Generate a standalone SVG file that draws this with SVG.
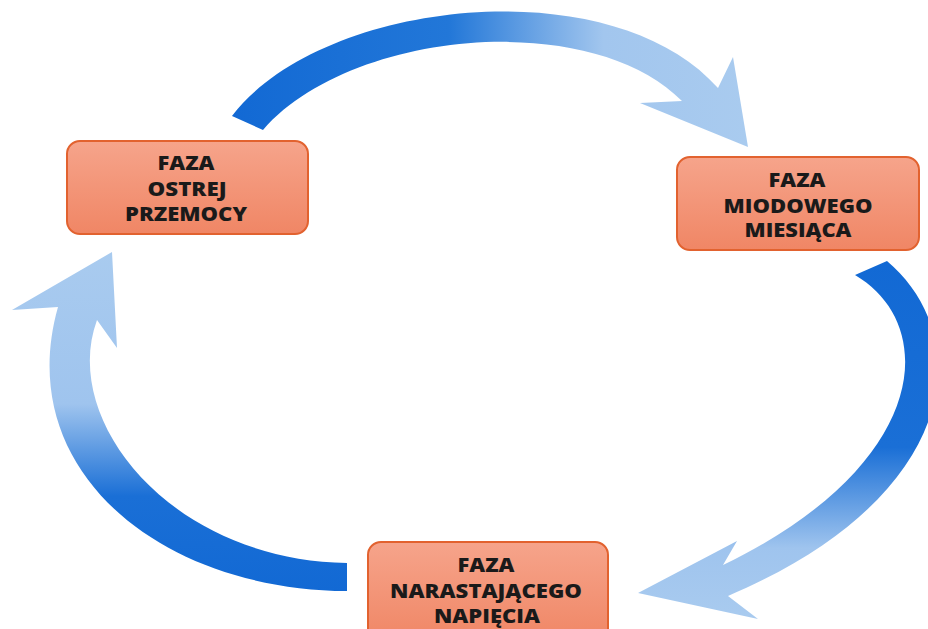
<svg xmlns="http://www.w3.org/2000/svg" width="928" height="629" viewBox="0 0 928 629">
<defs>
<linearGradient id="boxFill" x1="0" y1="0" x2="0" y2="1">
<stop offset="0" stop-color="#f6a48b"/>
<stop offset="1" stop-color="#f08665"/>
</linearGradient>
<linearGradient id="gTop" gradientUnits="userSpaceOnUse" x1="232" y1="0" x2="748" y2="0">
<stop offset="0" stop-color="#1269d4"/>
<stop offset="0.42" stop-color="#2277d8"/>
<stop offset="0.72" stop-color="#a2c6ee"/>
<stop offset="1" stop-color="#a9cbef"/>
</linearGradient>
<linearGradient id="gRight" gradientUnits="userSpaceOnUse" x1="0" y1="260" x2="0" y2="620">
<stop offset="0" stop-color="#1269d4"/>
<stop offset="0.52" stop-color="#1a6fd6"/>
<stop offset="0.8" stop-color="#9fc4ee"/>
<stop offset="1" stop-color="#a9cbef"/>
</linearGradient>
<linearGradient id="gLeft" gradientUnits="userSpaceOnUse" x1="0" y1="250" x2="0" y2="592">
<stop offset="0" stop-color="#a9cbef"/>
<stop offset="0.45" stop-color="#9fc4ee"/>
<stop offset="0.72" stop-color="#1a6fd6"/>
<stop offset="1" stop-color="#1269d4"/>
</linearGradient>
</defs>
<style>
.box{fill:url(#boxFill);stroke:#e2622f;stroke-width:2}
.lbl{font-family:"Open Sans","Liberation Sans",sans-serif;font-weight:800;font-size:19px;fill:#1a1a1a;text-anchor:middle}
</style>
<rect width="928" height="629" fill="#ffffff"/>
<g id="connectors">
<path id="arrow-top" fill="url(#gTop)" d="M232,116 C322,-2 612,-32 718,88 L733,57 L748,147 L640,103 L682,101 C590,8 350,30 263,130 Z"/>
<path id="arrow-right" fill="url(#gRight)" d="M887,261 C975,335 965,495 728,596 L758,619 L638,593 L737,541 L723,565 C930,465 940,325 855,275 Z"/>
<path id="arrow-left" fill="url(#gLeft)" d="M347,563 C170,560 60,420 97,320 L117,348 L112,252 L12,310 L58,307 C12,470 160,590 347,591 Z"/>
</g>
<g id="node-ostrej">
<rect class="box" x="67" y="141" width="241" height="93" rx="13"/>
<text class="lbl" x="186" y="170" textLength="57" lengthAdjust="spacingAndGlyphs">FAZA</text>
<text class="lbl" x="187" y="196" textLength="79" lengthAdjust="spacingAndGlyphs">OSTREJ</text>
<text class="lbl" x="186" y="221" textLength="122" lengthAdjust="spacingAndGlyphs">PRZEMOCY</text>
</g>
<g id="node-miodowego">
<rect class="box" x="677" y="157" width="242" height="93" rx="13"/>
<text class="lbl" x="797" y="187" textLength="57" lengthAdjust="spacingAndGlyphs">FAZA</text>
<text class="lbl" x="798" y="213" textLength="149" lengthAdjust="spacingAndGlyphs">MIODOWEGO</text>
<text class="lbl" x="798" y="237" textLength="107" lengthAdjust="spacingAndGlyphs">MIESIĄCA</text>
</g>
<g id="node-narastajacego">
<rect class="box" x="368" y="542" width="240" height="100" rx="13"/>
<text class="lbl" x="486" y="572" textLength="57" lengthAdjust="spacingAndGlyphs">FAZA</text>
<text class="lbl" x="486" y="598" textLength="192" lengthAdjust="spacingAndGlyphs">NARASTAJĄCEGO</text>
<text class="lbl" x="487" y="623" textLength="106" lengthAdjust="spacingAndGlyphs">NAPIĘCIA</text>
</g>
</svg>
